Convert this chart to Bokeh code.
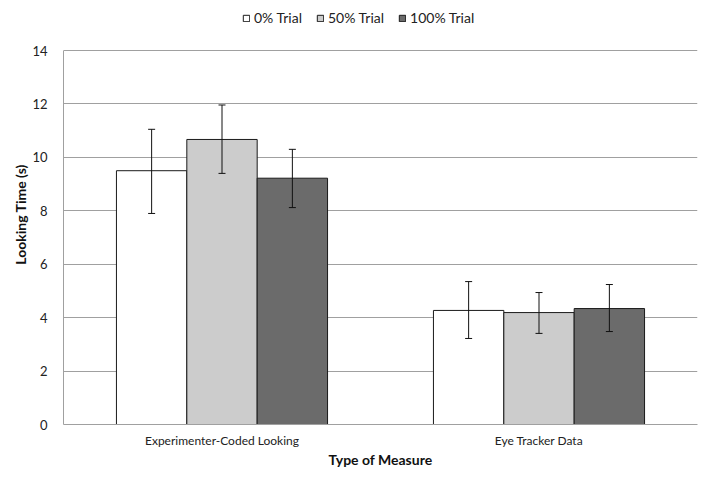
from bokeh.plotting import figure
from bokeh.models import FactorRange, Range1d, Whisker, ColumnDataSource, Legend, LegendItem, FixedTicker
from bokeh.transform import dodge
from bokeh.embed import file_html
from bokeh.resources import INLINE

categories = ["Experimenter-Coded Looking", "Eye Tracker Data"]
series = ["0% Trial", "50% Trial", "100% Trial"]
means_0 = [9.50, 4.27]
means_50 = [10.67, 4.19]
means_100 = [9.22, 4.34]
upper_0 = [11.05, 5.35]
lower_0 = [7.90, 3.22]
upper_50 = [11.96, 4.94]
lower_50 = [9.40, 3.41]
upper_100 = [10.30, 5.24]
lower_100 = [8.12, 3.48]
y_ticks = [0, 2, 4, 6, 8, 10, 12, 14]
colors = ["#ffffff", "#cccccc", "#6b6b6b"]

FONT = "Lato"
BAR_W = 0.222

# frame extends above the value axis so the legend can sit inside it
TOP_PAD, AXIS_TOP, AXIS_BOTTOM = 4, 50, 424
y_max = y_ticks[-1]
y_end = y_max * (AXIS_BOTTOM - TOP_PAD) / (AXIS_BOTTOM - AXIS_TOP)

p = figure(x_range=FactorRange(*categories), y_range=Range1d(0, y_end),
           width=711, height=485, output_backend="svg", toolbar_location=None,
           min_border_left=63, min_border_right=14, min_border_top=TOP_PAD, min_border_bottom=61)
p.outline_line_color = None
p.background_fill_color = "white"
p.styles = {"outline": "2px solid #c0c0c0", "outline-offset": "-3px"}

data_sets = [(means_0, lower_0, upper_0), (means_50, lower_50, upper_50), (means_100, lower_100, upper_100)]
offsets = [-BAR_W, 0.0, BAR_W]
items = []
for name, (m, lo, up), off, col in zip(series, data_sets, offsets, colors):
    src = ColumnDataSource(dict(cat=categories, top=m, lower=lo, upper=up))
    r = p.vbar(x=dodge("cat", off, range=p.x_range), top="top", width=BAR_W, source=src,
               fill_color=col, line_color="#1a1a1a", line_width=1)
    w = Whisker(base=dodge("cat", off, range=p.x_range), lower="lower", upper="upper", source=src,
                line_color="#111111", line_width=1, level="annotation")
    w.upper_head.size = 7
    w.lower_head.size = 7
    w.upper_head.line_color = "#111111"
    w.lower_head.line_color = "#111111"
    p.add_layout(w)
    items.append(LegendItem(label=name, renderers=[r]))

legend = Legend(items=items, orientation="horizontal", location=(179, 398),
                glyph_width=8, glyph_height=8, label_standoff=4, spacing=14,
                padding=0, margin=0, border_line_color=None, background_fill_alpha=0,
                label_text_font=FONT, label_text_font_size="14px", label_text_color="#222222")
p.add_layout(legend, "center")

p.ygrid.grid_line_color = "#a0a0a0"
p.ygrid.ticker = FixedTicker(ticks=y_ticks)
p.xgrid.grid_line_color = None

p.yaxis.ticker = FixedTicker(ticks=y_ticks)
p.yaxis.bounds = (0, y_max)
p.yaxis.major_tick_line_color = None
p.yaxis.minor_tick_line_color = None
p.yaxis.major_tick_out = 0
p.yaxis.major_tick_in = 0
p.yaxis.axis_line_color = "#a0a0a0"
p.yaxis.major_label_standoff = 16
p.yaxis.major_label_text_font = FONT
p.yaxis.major_label_text_font_size = "13px"
p.yaxis.major_label_text_color = "#222222"
p.yaxis.axis_label = "Looking Time (s)"
p.yaxis.axis_label_text_font = FONT
p.yaxis.axis_label_text_font_size = "14px"
p.yaxis.axis_label_text_font_style = "bold"
p.yaxis.axis_label_text_color = "#111111"
p.yaxis.axis_label_standoff = 0

p.xaxis.major_tick_line_color = None
p.xaxis.minor_tick_line_color = None
p.xaxis.major_tick_out = 0
p.xaxis.major_tick_in = 0
p.xaxis.axis_line_color = "#a0a0a0"
p.xaxis.major_label_standoff = 8
p.xaxis.major_label_text_font = FONT
p.xaxis.major_label_text_font_size = "12px"
p.xaxis.major_label_text_color = "#222222"
p.xaxis.axis_label = "Type of Measure"
p.xaxis.axis_label_text_font = FONT
p.xaxis.axis_label_text_font_size = "14px"
p.xaxis.axis_label_text_font_style = "bold"
p.xaxis.axis_label_text_color = "#111111"
p.xaxis.axis_label_standoff = 0

open("out.html", "w").write(file_html(p, INLINE))
